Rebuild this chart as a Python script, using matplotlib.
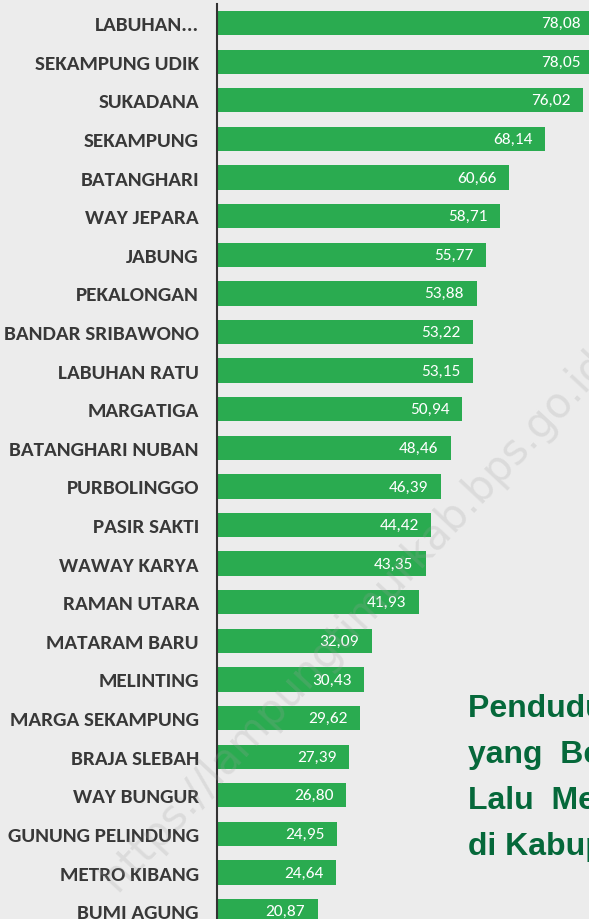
import matplotlib.pyplot as plt
import matplotlib.font_manager as fm

# data kecamatan (urut dari atas)
kecamatan = ["LABUHAN...", "SEKAMPUNG UDIK", "SUKADANA", "SEKAMPUNG", "BATANGHARI",
             "WAY JEPARA", "JABUNG", "PEKALONGAN", "BANDAR SRIBAWONO", "LABUHAN RATU",
             "MARGATIGA", "BATANGHARI NUBAN", "PURBOLINGGO", "PASIR SAKTI", "WAWAY KARYA",
             "RAMAN UTARA", "MATARAM BARU", "MELINTING", "MARGA SEKAMPUNG", "BRAJA SLEBAH",
             "WAY BUNGUR", "GUNUNG PELINDUNG", "METRO KIBANG", "BUMI AGUNG"]
nilai = [78.08, 78.05, 76.02, 68.14, 60.66, 58.71, 55.77, 53.88, 53.22, 53.15,
         50.94, 48.46, 46.39, 44.42, 43.35, 41.93, 32.09, 30.43, 29.62, 27.39,
         26.80, 24.95, 24.64, 20.87]
judul = ["Penduduk Usia 15 Tahun", "yang  Bekerja Selama", "Lalu  Menurut", "di Kabupaten Lampung Timur"]

# Calibri-like kalau ada (Carlito), kalau tidak pakai Barlow condensed
fonts = {f.name for f in fm.fontManager.ttflist}
if "Carlito" in fonts:
    lab_font, lab_size, lab_w = "Carlito", 15.2, "bold"
    val_font, val_size = "Carlito", 12.5
else:
    lab_font, lab_size, lab_w = "Barlow Semi Condensed", 15.5, 600
    val_font, val_size = "DejaVu Sans", 10.5

fig = plt.figure(figsize=(5.89, 9.2), dpi=100, facecolor="#ececec")
ax = fig.add_axes([217 / 589, 0, 372 / 589, 915 / 920])
ax.set_facecolor("none")

pos = list(range(len(nilai)))
bars = ax.barh(pos, nilai, height=0.63, color="#2aab50", zorder=2)
ax.set_xlim(0, 77.2)
ax.set_ylim((915 - 24) / 38.4, -19 / 38.4)

for b, v in zip(bars, nilai):
    ax.annotate(f"{v:.2f}".replace(".", ","), (v, b.get_y() + b.get_height() / 2),
                xytext=(-9, 0), textcoords="offset points", ha="right", va="center",
                color="white", fontsize=val_size, family=val_font,
                annotation_clip=False, zorder=3)

ax.set_yticks(pos)
ax.set_yticklabels(kecamatan, family=lab_font, fontweight=lab_w, fontsize=lab_size, color="#383838")
ax.tick_params(axis="y", length=0, pad=13)
ax.set_xticks([])
for s in ["top", "right", "bottom"]:
    ax.spines[s].set_visible(False)
ax.spines["left"].set_color("#333333")
ax.spines["left"].set_linewidth(1.5)

# watermark tipis
fig.text(108 / 589, 1 - 885 / 920, "https://lampungtimurkab.bps.go.id", rotation=47,
         rotation_mode="anchor", fontsize=30, color="#a0a0a0", alpha=0.22,
         ha="left", va="center", zorder=5)

# judul, terpotong di tepi kanan
for i, line in enumerate(judul):
    fig.text(468 / 589, 1 - (717 + 46 * i) / 920, line, family="Liberation Sans",
             fontweight="bold", fontsize=23, color="#05683a", ha="left", va="baseline")

fig.savefig("out.png", dpi=100, facecolor=fig.get_facecolor())
